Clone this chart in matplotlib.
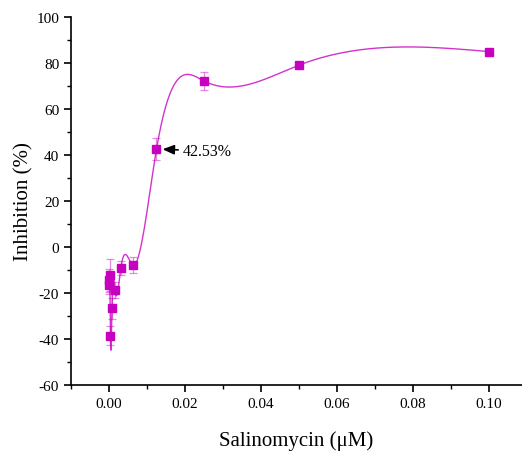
import numpy as np
import matplotlib.pyplot as plt
from matplotlib.ticker import MultipleLocator

# Salinomycin dose series (uM) and mean inhibition (%) with SD
conc = [0.0000488, 0.0000977, 0.000195, 0.00039, 0.00078, 0.0015625,
        0.003125, 0.00625, 0.0125, 0.025, 0.05, 0.1]
inhibition = [-16.5, -14.5, -12.0, -38.6, -26.6, -18.6,
              -9.1, -7.9, 42.53, 72.2, 79.1, 85.0]
sd = [4.0, 5.0, 7.0, 4.1, 4.5, 3.5,
      3.0, 3.5, 4.8, 3.9, 1.0, 1.0]

ic_label = "42.53%"

MAG = "#C800C0"


def natural_spline(x, y, n=1200):
    """Natural cubic spline through (x, y), evaluated on a dense grid."""
    x = np.asarray(x, float)
    y = np.asarray(y, float)
    h = np.diff(x)
    m = len(x)
    A = np.zeros((m, m))
    b = np.zeros(m)
    A[0, 0] = A[-1, -1] = 1.0
    for i in range(1, m - 1):
        A[i, i - 1] = h[i - 1]
        A[i, i] = 2 * (h[i - 1] + h[i])
        A[i, i + 1] = h[i]
        b[i] = 6 * ((y[i + 1] - y[i]) / h[i] - (y[i] - y[i - 1]) / h[i - 1])
    M = np.linalg.solve(A, b)
    xs = np.concatenate([np.linspace(x[i], x[i + 1], n // (m - 1) + 2)
                         for i in range(m - 1)])
    idx = np.clip(np.searchsorted(x, xs) - 1, 0, m - 2)
    x0, x1 = x[idx], x[idx + 1]
    hh = x1 - x0
    t0 = x1 - xs
    t1 = xs - x0
    ys = (M[idx] * t0**3 / (6 * hh) + M[idx + 1] * t1**3 / (6 * hh)
          + (y[idx] / hh - M[idx] * hh / 6) * t0
          + (y[idx + 1] / hh - M[idx + 1] * hh / 6) * t1)
    return xs, ys


plt.rcParams['font.family'] = ['Liberation Serif', 'DejaVu Serif']
plt.rcParams['axes.unicode_minus'] = False

fig = plt.figure(figsize=(5.22, 4.52), dpi=100)
ax = fig.add_axes([0.136, 0.146, 0.864, 0.814])

xs, ys = natural_spline(conc, inhibition)
ax.plot(xs, ys, color=MAG, lw=1.0, alpha=0.8, zorder=2)
ax.errorbar(conc, inhibition, yerr=sd, fmt="none", ecolor=MAG, alpha=0.45,
            elinewidth=0.9, capsize=3, capthick=0.9, zorder=3)
ax.plot(conc, inhibition, "s", color=MAG, ms=6, mec=MAG, zorder=4)

ax.annotate(ic_label, xy=(conc[8] + 0.0016, inhibition[8]),
            xytext=(conc[8] + 0.0068, inhibition[8] - 0.8),
            fontsize=11.5, va="center", ha="left",
            arrowprops=dict(arrowstyle="-|>,head_length=0.6,head_width=0.25",
                            color="black", lw=1.2, shrinkA=1, shrinkB=0))

ax.set_xlim(-0.01, 0.1087)
ax.set_ylim(-60, 100)
ax.xaxis.set_major_locator(MultipleLocator(0.02))
ax.xaxis.set_minor_locator(MultipleLocator(0.01))
ax.yaxis.set_major_locator(MultipleLocator(20))
ax.yaxis.set_minor_locator(MultipleLocator(10))
ax.xaxis.set_major_formatter(plt.FuncFormatter(lambda v, p: f"{v:.2f}"))

for side in ("top", "right"):
    ax.spines[side].set_visible(False)
for side in ("left", "bottom"):
    ax.spines[side].set_linewidth(1.2)

ax.tick_params(which="major", direction="out", length=5, width=1.2,
               labelsize=11)
ax.tick_params(which="minor", direction="out", length=3, width=1.0)

ax.set_xlabel("Salinomycin (μM)", fontsize=15, labelpad=15)
ax.set_ylabel("Inhibition (%)", fontsize=15, labelpad=2)

fig.savefig("out.png", dpi=100)
